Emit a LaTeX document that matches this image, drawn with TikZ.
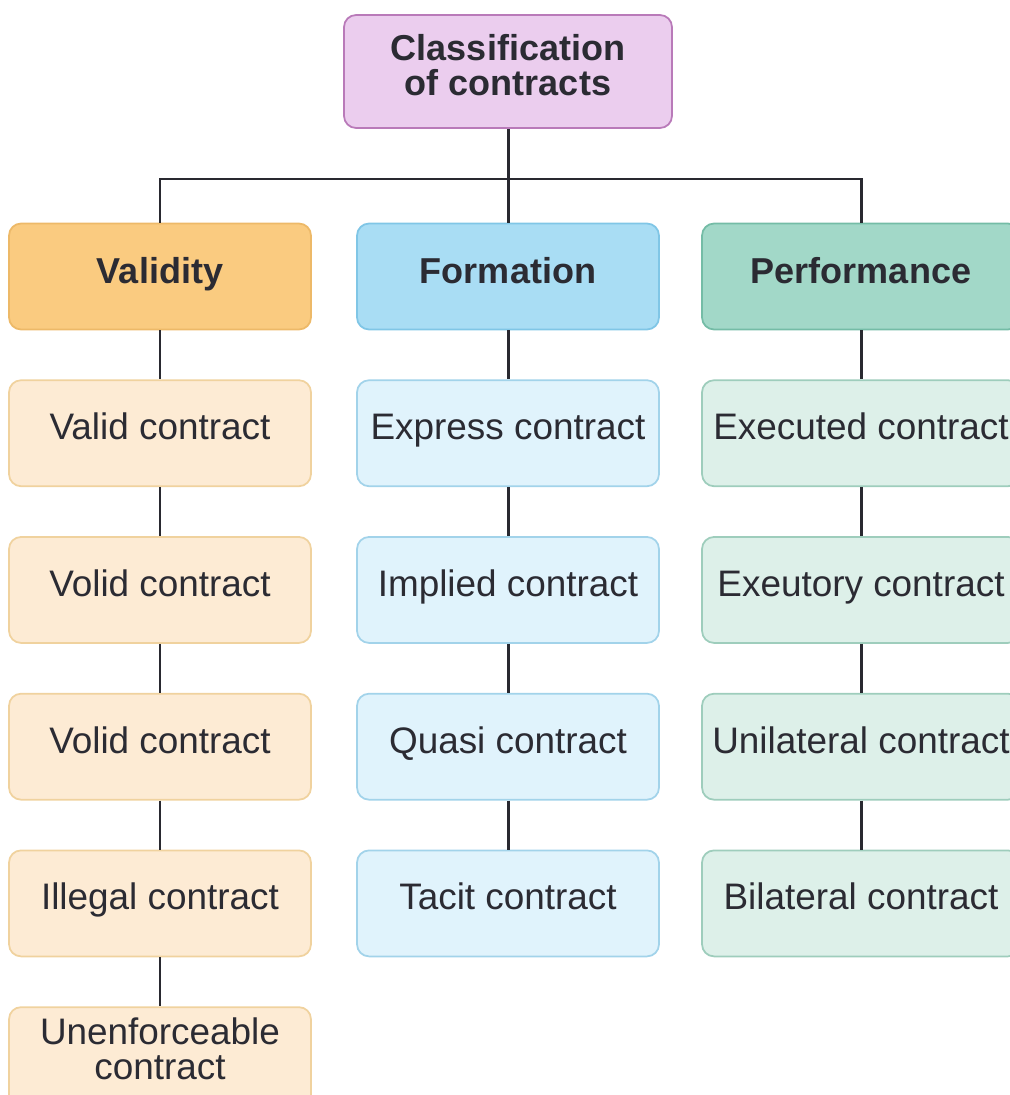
\documentclass[tikz,border=0pt]{standalone}
\usepackage{fontspec}
\setmainfont{Liberation Sans}
\usetikzlibrary{positioning}
\definecolor{txt}{HTML}{2B2B33}
\definecolor{rootfill}{HTML}{EBCDEE}
\definecolor{rootdraw}{HTML}{B97AB9}
\definecolor{valfill}{HTML}{FACB80}
\definecolor{valdraw}{HTML}{EDB968}
\definecolor{valitem}{HTML}{FDEBD4}
\definecolor{valitemdraw}{HTML}{F0D29E}
\definecolor{formfill}{HTML}{A9DDF4}
\definecolor{formdraw}{HTML}{80C6E6}
\definecolor{formitem}{HTML}{E0F3FC}
\definecolor{formitemdraw}{HTML}{A2D3EA}
\definecolor{perffill}{HTML}{A2D8C8}
\definecolor{perfdraw}{HTML}{74BCA6}
\definecolor{perfitem}{HTML}{DDF0E9}
\definecolor{perfitemdraw}{HTML}{9ECDBC}
\tikzset{
box/.style={draw, rounded corners=0.24cm, line width=1pt, text=txt, align=center, inner sep=0pt, minimum width=6.04cm, minimum height=2.12cm, text height=0.52cm, text depth=0.26cm, font=\fontsize{21}{20}\selectfont}, % common box
twoline/.style={text height=1.225cm}, % boxes with two lines of text
link/.style={draw=txt!95!black, line width=1.7pt}, % connectors
}
\begin{document}
\begin{tikzpicture}[x=0.02cm, y=-0.02cm, node distance=0.98cm,
    root/.style={box, twoline, fill=rootfill, draw=rootdraw, minimum width=6.56cm, minimum height=2.26cm, font=\fontsize{20.5}{20}\selectfont\bfseries},
    cat/.style={box, font=\fontsize{20.5}{20}\selectfont\bfseries},
    val/.style={box, fill=valitem, draw=valitemdraw},
    form/.style={box, fill=formitem, draw=formitemdraw},
    perf/.style={box, fill=perfitem, draw=perfitemdraw, minimum width=6.36cm}]
    \useasboundingbox (0,0) rectangle (1009,1095);
    \node[root] (root) at (508,71.5) {Classification\\of contracts};
    \node[cat, fill=valfill, draw=valdraw] (validity) at (160,276.5) {Validity};
    \node[cat, fill=formfill, draw=formdraw] (formation) at (508,276.5) {Formation};
    \node[cat, fill=perffill, draw=perfdraw, minimum width=6.36cm] (performance) at (861,276.5) {Performance};
    \coordinate (bus) at (508,179);
    % validity column
    \node[val] (v1) [below=of validity] {Valid contract};
    \node[val] (v2) [below=of v1] {Volid contract};
    \node[val] (v3) [below=of v2] {Volid contract};
    \node[val] (v4) [below=of v3] {Illegal contract};
    \node[val, twoline, text depth=0.46cm] (v5) [below=of v4] {Unenforceable\\contract};
    % formation column
    \node[form] (f1) [below=of formation] {Express contract};
    \node[form] (f2) [below=of f1] {Implied contract};
    \node[form] (f3) [below=of f2] {Quasi contract};
    \node[form] (f4) [below=of f3] {Tacit contract};
    % performance column
    \node[perf] (p1) [below=of performance] {Executed contract};
    \node[perf] (p2) [below=of p1] {Exeutory contract};
    \node[perf] (p3) [below=of p2] {Unilateral contract};
    \node[perf] (p4) [below=of p3] {Bilateral contract};
    \draw[link] (root) -- (formation);
    \draw[link] (validity) |- (bus) -| (performance);
    \draw[link] (validity) -- (v1) -- (v2) -- (v3) -- (v4) -- (v5);
    \draw[link] (formation) -- (f1) -- (f2) -- (f3) -- (f4);
    \draw[link] (performance) -- (p1) -- (p2) -- (p3) -- (p4);
\end{tikzpicture}
\end{document}
